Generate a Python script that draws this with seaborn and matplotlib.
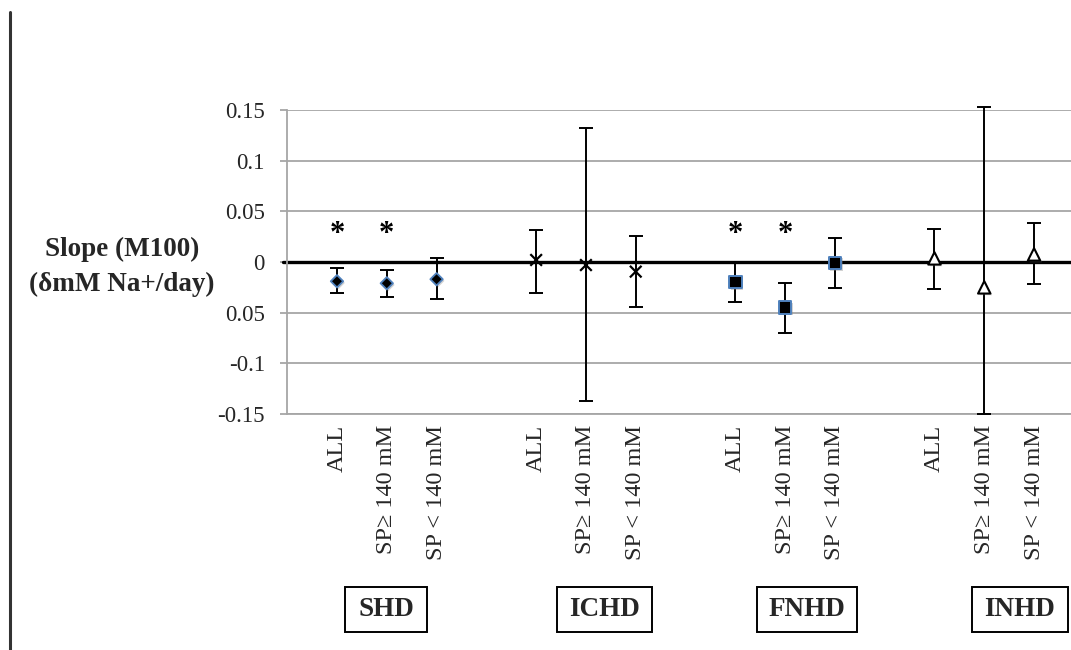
import matplotlib
matplotlib.use("Agg")
import matplotlib.pyplot as plt
import matplotlib.patheffects as pe
from matplotlib.patches import Rectangle
from matplotlib.lines import Line2D
import numpy as np
import pandas as pd
import seaborn as sns

# ---- data -------------------------------------------------------------
groups = ["SHD", "ICHD", "FNHD", "INHD"]
subsets = ["ALL", "SP\u2265 140 mM", "SP < 140 mM"]

shd_slope = [-0.019, -0.021, -0.017]
shd_low = [-0.031, -0.035, -0.037]
shd_high = [-0.006, -0.008, 0.004]

ichd_slope = [0.002, -0.003, -0.0095]
ichd_low = [-0.031, -0.137, -0.044]
ichd_high = [0.032, 0.132, 0.0255]

fnhd_slope = [-0.020, -0.045, -0.001]
fnhd_low = [-0.0395, -0.0696, -0.026]
fnhd_high = [0.0, -0.021, 0.024]

inhd_slope = [0.0036, -0.025, 0.0075]
inhd_low = [-0.027, -0.150, -0.022]
inhd_high = [0.0325, 0.153, 0.0385]

# significant (*) flags, one per subset in group order
significant = [True, True, False,
               False, False, False,
               True, True, False,
               False, False, False]

y_ticks = [-0.15, -0.1, -0.05, 0, 0.05, 0.1, 0.15]
y_tick_labels = ["-0.15", "-0.1", "0.05", "0", "0.05", "0.1", "0.15"]

# ---- table ------------------------------------------------------------
slopes = [shd_slope, ichd_slope, fnhd_slope, inhd_slope]
lows = [shd_low, ichd_low, fnhd_low, inhd_low]
highs = [shd_high, ichd_high, fnhd_high, inhd_high]
rows = []
for gi, g in enumerate(groups):
    for si, s in enumerate(subsets):
        rows.append({"group": g, "subset": s, "pos": gi * 4 + si + 1,
                     "slope": slopes[gi][si], "low": lows[gi][si],
                     "high": highs[gi][si]})
df = pd.DataFrame(rows)
df["sig"] = significant

# ---- style ------------------------------------------------------------
sns.set_theme(style="white")
plt.rcParams["font.family"] = ["Liberation Serif", "DejaVu Serif"]

W, H = 1071, 650
fig = plt.figure(figsize=(W / 100, H / 100), dpi=100)
ax_left, ax_right = 287.2, 1071
ax_top, ax_bot = 110, 414
ax = fig.add_axes([ax_left / W, 1 - ax_bot / H,
                   (ax_right - ax_left) / W, (ax_bot - ax_top) / H])

slot_px = 49.79
ax.set_xlim(0, (ax_right - ax_left) / slot_px)
ax.set_ylim(-0.15, 0.15)

grid_col = "#A6A6A6"
ax.set_yticks(y_ticks)
ax.set_yticklabels(y_tick_labels, fontsize=16.5)
ax.yaxis.grid(True, color=grid_col, lw=1.3)
ax.set_axisbelow(True)
ax.tick_params(axis="y", left=True, length=5, width=1.3, color=grid_col,
               pad=11)
for side in ["top", "right"]:
    ax.spines[side].set_visible(False)
for side in ["left", "bottom"]:
    ax.spines[side].set_color(grid_col)
    ax.spines[side].set_linewidth(1.3)

ax.set_xticks(df["pos"])
ax.set_xticklabels(df["subset"], rotation=90, fontsize=17.5, va="top")
ax.tick_params(axis="x", bottom=False, length=0, pad=8)

# zero reference line
ax.axhline(0, xmin=-0.005, color="black", lw=2.4, zorder=2, clip_on=False)

# error bars
err = np.vstack([df["slope"] - df["low"], df["high"] - df["slope"]])
ax.errorbar(df["pos"], df["slope"], yerr=err, fmt="none", ecolor="black",
            elinewidth=1.4, capsize=5, capthick=1.4, zorder=3, clip_on=False)

# markers, one style per group, with a soft drop shadow
shadow = [pe.SimplePatchShadow(offset=(1.2, -1.2), shadow_rgbFace="#808080",
                               alpha=0.35), pe.Normal()]
marker_styles = {
    "SHD": dict(marker="D", s=40, color="black", edgecolor="#4F81BD", linewidth=1.3),
    "ICHD": dict(marker="x", s=70, color="black", linewidth=1.6),
    "FNHD": dict(marker="s", s=80, color="black", edgecolor="#4F81BD", linewidth=1.4),
    "INHD": dict(marker="^", s=80, color="white", edgecolor="black", linewidth=1.5),
}
for g in groups:
    sub = df[df["group"] == g]
    sns.scatterplot(data=sub, x="pos", y="slope", ax=ax, zorder=4,
                    legend=False, **marker_styles[g])
for coll in ax.collections:
    coll.set_path_effects(shadow)
ax.set_xlabel("")
ax.set_ylabel("")

# significance stars
for _, r in df[df["sig"]].iterrows():
    ax.text(r["pos"], 0.027, "*", ha="center", va="center",
            fontsize=22, fontweight="bold", color="black")

# y-axis title
fig.text(122 / W, 1 - 267 / H, "Slope (M100)\n(\u03b4mM Na+/day)",
         ha="center", va="center", fontsize=19.5, fontweight="bold",
         linespacing=1.5)

# boxed group labels
boxes = [(345, 427), (557, 652), (757, 857), (972, 1068)]
box_top, box_bot = 587, 632
for g, (x0, x1) in zip(groups, boxes):
    fig.patches.append(Rectangle((x0 / W, 1 - box_bot / H), (x1 - x0) / W,
                                 (box_bot - box_top) / H, transform=fig.transFigure,
                                 fill=False, ec="black", lw=1.4))
    fig.text((x0 + x1) / 2 / W, 1 - (box_top + box_bot) / 2 / H, g,
             ha="center", va="center", fontsize=19.5, fontweight="bold")

# left border rule
fig.lines.append(Line2D([9.5 / W, 9.5 / W], [0, 1 - 12 / H],
                        transform=fig.transFigure, color="#333333", lw=2.2))

fig.savefig("out.png", dpi=100)
